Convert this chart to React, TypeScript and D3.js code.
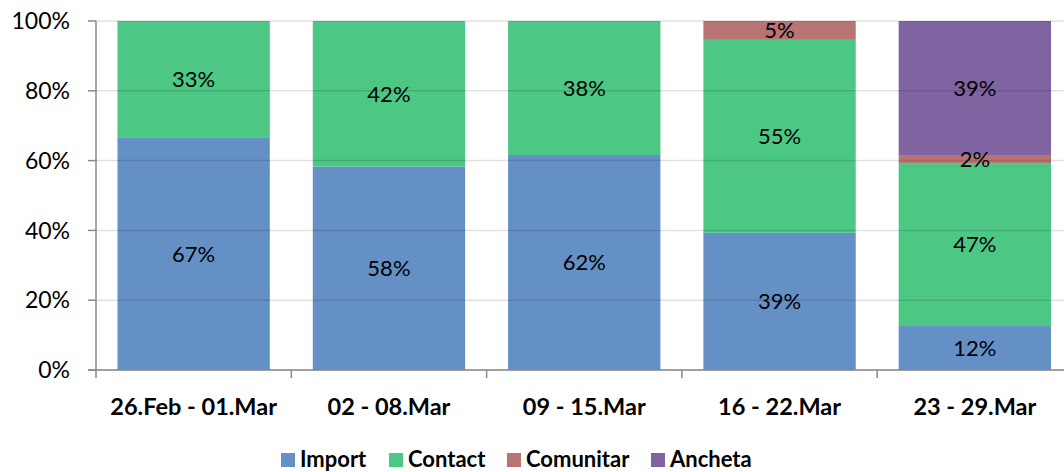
import React from "react";
import * as d3 from "d3";

const categories = ["26.Feb - 01.Mar", "02 - 08.Mar", "09 - 15.Mar", "16 - 22.Mar", "23 - 29.Mar"];
const seriesNames = ["Import", "Contact", "Comunitar", "Ancheta"];
const importVals = [66.7, 58.3, 61.6, 39.3, 12.6];
const contactVals = [33.3, 41.7, 38.4, 55.3, 46.7];
const comunitarVals = [0, 0, 0, 5.4, 2.3];
const anchetaVals = [0, 0, 0, 0, 38.4];
const importLabels = ["67%", "58%", "62%", "39%", "12%"];
const contactLabels = ["33%", "42%", "38%", "55%", "47%"];
const comunitarLabels = ["", "", "", "5%", "2%"];
const anchetaLabels = ["", "", "", "", "39%"];
const yTicks = [0, 20, 40, 60, 80, 100];
const colors = ["#6490c6", "#4dc884", "#b87472", "#8064a2"];

const W = 1064, H = 472;
const left = 96, top = 21, bottom = 370;
const band = 195.3;

export default function App() {
  const x = d3.scaleBand<string>().domain(categories).range([left, left + band * categories.length]).paddingInner(0.22).paddingOuter(0.11);
  const y = d3.scaleLinear().domain([0, 100]).range([bottom, top]);
  const rows = categories.map((c, i) => ({
    cat: c,
    Import: importVals[i],
    Contact: contactVals[i],
    Comunitar: comunitarVals[i],
    Ancheta: anchetaVals[i],
  }));
  const labelSets = [importLabels, contactLabels, comunitarLabels, anchetaLabels];
  const stack = d3.stack<any>().keys(seriesNames)(rows);
  const font = "Lato, 'Open Sans', sans-serif";
  const legendX = [281, 389, 507, 651];
  return (
    <svg width={W} height={H} style={{ position: "absolute", left: 0, top: 0, background: "#fff" }} fontFamily={font}>
      {stack.map((s, si) =>
        s.map((d, i) => {
          const h = y(d[0]) - y(d[1]);
          if (h <= 0) return null;
          return (
            <rect key={`${si}-${i}`} x={x(categories[i])} width={x.bandwidth()} y={y(d[1])} height={h} fill={colors[si]} />
          );
        })
      )}
      {yTicks.map((t) => (
        <line key={t} x1={left} x2={W} y1={y(t)} y2={y(t)} stroke="#000" strokeOpacity={0.12} strokeWidth={1.5} />
      ))}
      <line x1={left} x2={left} y1={top} y2={bottom + 8} stroke="#898989" strokeWidth={1.5} />
      <line x1={left - 8} x2={W} y1={bottom} y2={bottom} stroke="#898989" strokeWidth={1.5} />
      {yTicks.map((t) => (
        <g key={"t" + t}>
          <line x1={left - 8} x2={left} y1={y(t)} y2={y(t)} stroke="#898989" strokeWidth={1.5} />
          <text x={left - 26} y={y(t)} dy="0.36em" textAnchor="end" fontSize={23} fill="#000">{t}%</text>
        </g>
      ))}
      {categories.map((c, i) => {
        const bx = left + band * (i + 1);
        return <line key={"xt" + i} x1={bx} x2={bx} y1={bottom} y2={bottom + 8} stroke="#898989" strokeWidth={1.5} />;
      })}
      {stack.map((s, si) =>
        s.map((d, i) => {
          const lab = labelSets[si][i];
          if (!lab) return null;
          return (
            <text key={`l${si}-${i}`} x={(x(categories[i]) as number) + x.bandwidth() / 2} y={(y(d[0]) + y(d[1])) / 2} dy="0.36em" textAnchor="middle" fontSize={22} fill="#000">{lab}</text>
          );
        })
      )}
      {categories.map((c) => (
        <text key={c} x={(x(c) as number) + x.bandwidth() / 2} y={407} dy="0.36em" textAnchor="middle" fontSize={23.5} fontWeight="bold" fill="#000">{c}</text>
      ))}
      {seriesNames.map((n, i) => (
        <g key={n}>
          <rect x={legendX[i]} y={453} width={14} height={14} fill={colors[i]} />
          <text x={legendX[i] + 19} y={459} dy="0.36em" fontSize={22} fontWeight="bold" fill="#000">{n}</text>
        </g>
      ))}
    </svg>
  );
}
